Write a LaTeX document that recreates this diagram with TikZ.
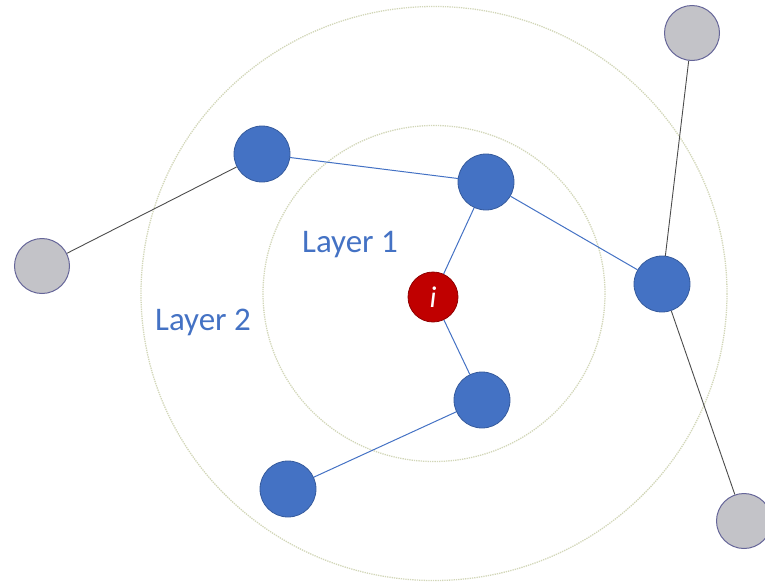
\documentclass[tikz,border=0pt]{standalone}
\usepackage{fontspec}
\setmainfont{Carlito}
\usetikzlibrary{positioning}
\definecolor{nbBlue}{HTML}{4472C4}
\definecolor{nbRed}{HTML}{C00000}
\definecolor{nbGray}{HTML}{C3C3C8}
\definecolor{ringC}{HTML}{D2D6B8}

\begin{document}
\begin{tikzpicture}[x=1pt,y=-1pt,
  hop/.style={circle,fill=nbBlue,draw=nbBlue!80!black,line width=0.8pt,minimum size=56pt,inner sep=0pt},
  far/.style={circle,fill=nbGray,draw=gray!80!blue,line width=1pt,minimum size=55pt,inner sep=0pt},
  root/.style={circle,fill=nbRed,draw=nbRed!75!black,line width=0.8pt,minimum size=50pt,inner sep=0pt,text=white,font=\fontsize{30}{30}\selectfont\itshape},
  ring/.style={ringC,line width=1.3pt,densely dotted},
  layer/.style={text=nbBlue,font=\fontsize{33}{35}\selectfont}]
  \useasboundingbox (0,0) rectangle (765,584);
  \clip (0,0) rectangle (765,584);
  % neighbourhood rings
  \draw[ring] (434,293.5) ellipse (171 and 168);
  \draw[ring] (434,293.5) ellipse (293 and 287);
  \node[layer] (l1) at (350,245) {Layer 1};
  \node[layer] (l2) at (203,322) {Layer 2};
  % nodes
  \node[root] (i) at (433,297) {i};
  \node[hop] (n1) at (262,154) {};
  \node[hop] (n2) at (486,182) {};
  \node[hop] (n3) at (662,284) {};
  \node[hop] (n4) at (482,400) {};
  \node[hop] (n5) at (288,489) {};
  \node[far] (g1) at (692,33) {};
  \node[far] (g2) at (42,266) {};
  \node[far] (g3) at (744,521) {};
  % edges
  \foreach \a/\b in {n1/n2,n2/i,n2/n3,i/n4,n4/n5}
    \draw[nbBlue,line width=1pt] (\a) -- (\b);
  \foreach \a/\b in {n1/g2,g1/n3,n3/g3}
    \draw[black!70,line width=0.9pt] (\a) -- (\b);
\end{tikzpicture}
\end{document}
